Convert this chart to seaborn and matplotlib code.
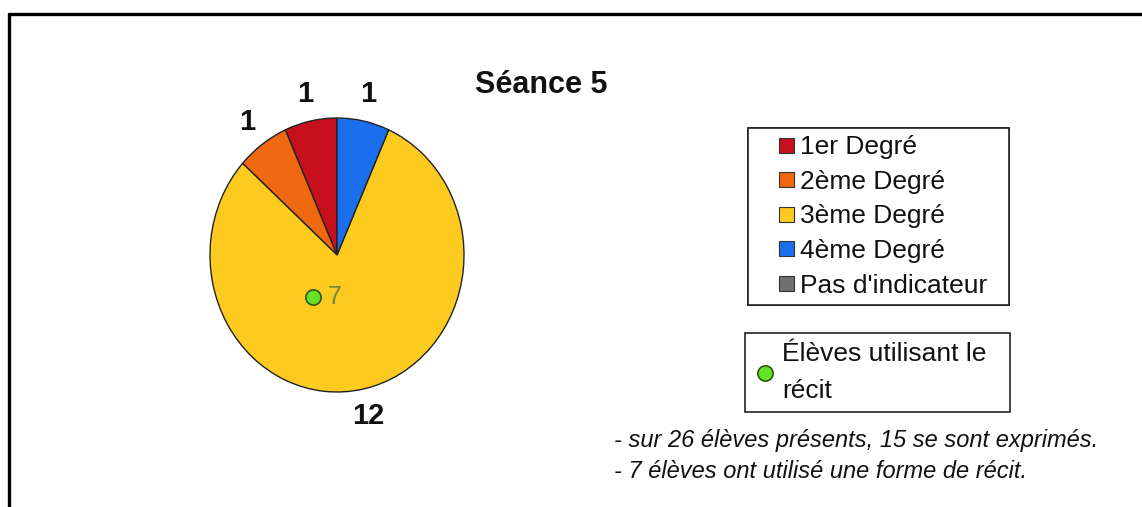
import matplotlib
matplotlib.use("Agg")
import matplotlib.pyplot as plt
from matplotlib.patches import Patch, Rectangle
from matplotlib.lines import Line2D
from matplotlib.legend_handler import HandlerPatch
import seaborn as sns

# data
categories = ["1er Degré", "2ème Degré", "3ème Degré", "4ème Degré", "Pas d'indicateur"]
counts = [1, 1, 12, 1, 0]
colors = ["#c8101c", "#f0680f", "#fdcb20", "#1c6fec", "#707070"]
recit_count = 7
recit_label = "Élèves utilisant le\nrécit"
title = "Séance 5"
notes = ["- sur 26 élèves présents, 15 se sont exprimés.",
         "- 7 élèves ont utilisé une forme de récit."]

sns.set_style("white")
plt.rcParams["font.family"] = ["Liberation Sans", "DejaVu Sans"]

W, H = 1142, 507
fig = plt.figure(figsize=(W / 100, H / 100), dpi=100)
fig.patch.set_facecolor("white")


def fx(px):
    return px / W


def fy(py):
    return 1 - py / H


# pie (slightly taller than wide, as in the original)
ax = fig.add_axes([fx(210), fy(392), fx(464) - fx(210), fy(118) - fy(392)])
shown = [(c, v, col) for c, v, col in zip(categories, counts, colors) if v > 0]
vals = [v for _, v, _ in shown]
total = sum(vals)
wedges, _, autotexts = ax.pie(
    vals, colors=[col for _, _, col in shown], startangle=90, counterclock=True,
    autopct=lambda p: f"{round(p * total / 100)}", pctdistance=1.2,
    wedgeprops=dict(edgecolor="#222222", linewidth=1.0),
    textprops=dict(fontsize=21, fontweight="bold", color="#111111"))
ax.set_aspect("auto")
ax.set_xlim(-1, 1)
ax.set_ylim(-1, 1)
for t in autotexts:
    t.set_clip_on(False)

# green dot : students using the narrative form
ax.plot([-0.19], [-0.31], marker="o", ms=11, mfc="#66e22a", mec="#2a5a10",
        mew=1.2, linestyle="none", clip_on=False)
ax.text(-0.02, -0.31, str(recit_count), fontsize=18, color="#6b8a3a",
        ha="center", va="center")

fig.text(fx(541), fy(85), title, fontsize=22, fontweight="bold",
         ha="center", va="center", color="#111111")


# squares drawn at the right end of the handle box
def square(legend, orig_handle, xdescent, ydescent, width, height, fontsize):
    s = 0.57 * fontsize
    return Rectangle((width - s - xdescent, (height - s) / 2 - ydescent), s, s)


handles = [Patch(facecolor=col, edgecolor="#333333", linewidth=0.8) for col in colors]
leg1 = fig.legend(handles, categories, loc="upper left",
                  bbox_to_anchor=(fx(748), fy(305), fx(1009) - fx(748), fy(128) - fy(305)),
                  mode="expand", fontsize=19,
                  handler_map={Patch: HandlerPatch(patch_func=square)},
                  frameon=True, fancybox=False, framealpha=1, edgecolor="#222222",
                  handlelength=1.48, handleheight=0.6, handletextpad=0.2,
                  labelspacing=0.4, borderpad=0.28, borderaxespad=0)
leg1.get_frame().set_linewidth(1.2)
for t in leg1.get_texts():
    t.set_color("#111111")

dot = Line2D([], [], marker="o", ms=11, mfc="#66e22a", mec="#2a5a10", mew=1.2,
             linestyle="none")
leg2 = fig.legend([dot], [recit_label], loc="upper left",
                  bbox_to_anchor=(fx(745), fy(410), fx(1010) - fx(745), fy(333) - fy(410)),
                  mode="expand", fontsize=19,
                  frameon=True, fancybox=False, framealpha=1, edgecolor="#222222",
                  handlelength=0.8, handletextpad=0.25, borderpad=0.35,
                  borderaxespad=0)
leg2.get_frame().set_linewidth(1.2)
for t in leg2.get_texts():
    t.set_linespacing(1.65)
    t.set_color("#111111")
fig.add_artist(leg1)

# notes
for i, line in enumerate(notes):
    fig.text(fx(614), fy(441 + 30 * i), line, fontsize=17, style="italic",
             ha="left", va="center", color="#111111")

# border (top and left visible)
fig.add_artist(Line2D([fx(9), 1], [fy(14), fy(14)], color="black", lw=2.4,
                      transform=fig.transFigure))
fig.add_artist(Line2D([fx(9), fx(9)], [fy(14), 0], color="black", lw=2.4,
                      transform=fig.transFigure))

fig.savefig("out.png", dpi=100, facecolor="white")
